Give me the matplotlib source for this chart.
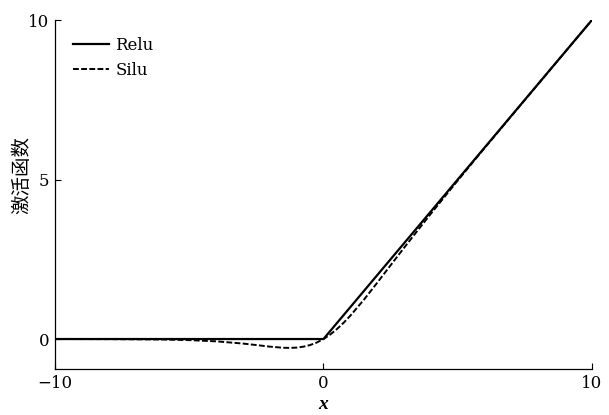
import matplotlib.pyplot as plt

# values
x_relu = [-10, 0, 10]
y_relu = [0, 0, 10]

x_silu = [-10, -8, -6, -5, -4, -3, -2.5, -2, -1.5, -1.25, -1, -0.75, -0.5, -0.25,
          0, 0.25, 0.5, 0.75, 1, 1.5, 2, 2.5, 3, 3.5, 4, 5, 6, 8, 10]
y_silu = [0.0, -0.003, -0.015, -0.034, -0.072, -0.142, -0.189, -0.238, -0.274, -0.278,
          -0.269, -0.240, -0.189, -0.110, 0.0, 0.140, 0.311, 0.509, 0.731, 1.226,
          1.762, 2.311, 2.858, 3.395, 3.928, 4.967, 5.985, 7.997, 10.0]

xticks = [-10, 0, 10]
yticks = [0, 5, 10]

plt.rcParams["font.family"] = ["DejaVu Serif"]

fig = plt.figure(figsize=(6.09, 4.15), dpi=100)
ax = fig.add_axes([0.0903, 0.1108, 0.8817, 0.841])

ax.plot(x_relu, y_relu, color="black", lw=1.6, label="Relu")
ax.plot(x_silu, y_silu, color="black", lw=1.4, ls=(0, (3, 1.2)), label="Silu")

ax.set_xlim(-10, 10)
ax.set_ylim(-0.94, 10)
ax.set_xticks(xticks)
ax.set_yticks(yticks)
ax.set_xticklabels(["\u221210", "0", "10"])
ax.tick_params(direction="in", length=4, width=0.8, labelsize=12, pad=4)

for s in ["top", "right"]:
    ax.spines[s].set_visible(False)
for s in ["left", "bottom"]:
    ax.spines[s].set_linewidth(0.9)

ax.set_xlabel("x", fontsize=14, fontstyle="italic", fontweight="bold",
              family=["Liberation Serif"], labelpad=3)
ax.set_ylabel("激活函数", fontsize=14, family=["Noto Sans CJK SC", "DejaVu Sans"])
ax.yaxis.set_label_coords(-0.043, 0.556)

leg = ax.legend(loc="upper left", frameon=False, fontsize=12, handlelength=2.15,
                handletextpad=0.36, borderaxespad=0, labelspacing=0.5,
                bbox_to_anchor=(0.022, 0.971))

fig.savefig("out.png", dpi=100)
